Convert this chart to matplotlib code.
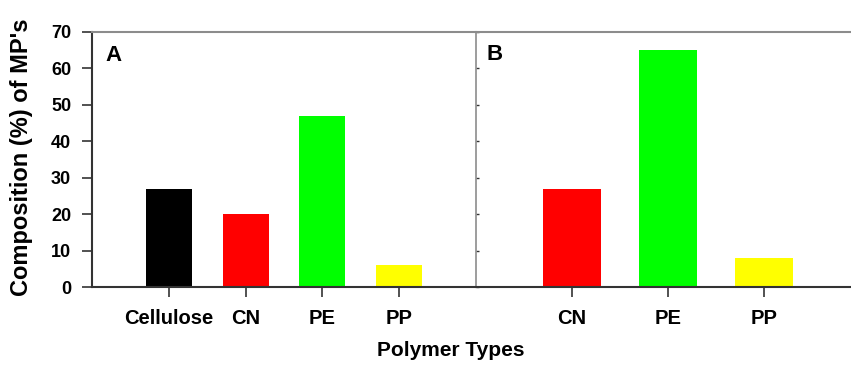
import numpy as np
import matplotlib
matplotlib.use('Agg')
import matplotlib.pyplot as plt
from matplotlib import rcParams

rcParams['font.family'] = ['Liberation Sans', 'DejaVu Sans']
rcParams['font.weight'] = 'bold'

# data
cats_a = ['Cellulose', 'CN', 'PE', 'PP']
vals_a = [27, 20, 47, 6]
cats_b = ['CN', 'PE', 'PP']
vals_b = [27, 65, 8]
colors_a = ['#000000', '#ff0000', '#00ff00', '#ffff00']
colors_b = ['#ff0000', '#00ff00', '#ffff00']
yticks = np.arange(0, 71, 10)

W, H = 851, 372
fig = plt.figure(figsize=(W / 100, H / 100), dpi=100)

# axes boxes in pixels (left, right), panel B runs past the right edge
y0, y1 = 287, 32
ax_a = fig.add_axes([92 / W, 1 - y0 / H, (476 - 92) / W, (y0 - y1) / H])
ax_b = fig.add_axes([476 / W, 1 - y0 / H, (860 - 476) / W, (y0 - y1) / H])

dark = '#333333'
grey = '#8c8c8c'

# panel A
xa = np.arange(1, len(cats_a) + 1)
ax_a.bar(xa, vals_a, width=0.6, color=colors_a, linewidth=0)
ax_a.set_xlim(0, 5)
ax_a.set_ylim(0, 70)
ax_a.set_yticks(yticks)
ax_a.set_xticks(xa)
ax_a.set_xticklabels(cats_a)
ax_a.tick_params(axis='y', direction='out', length=7, width=1.2, color=dark,
                 labelsize=13, pad=8)
ax_a.tick_params(axis='x', direction='out', length=7, width=1.2, color=dark,
                 labelsize=14.5, pad=9)
ax_a.spines['right'].set_visible(False)
ax_a.spines['left'].set_color(dark)
ax_a.spines['bottom'].set_color(dark)
ax_a.spines['top'].set_color(grey)
for s in ['left', 'bottom']:
    ax_a.spines[s].set_linewidth(1.5)
ax_a.spines['top'].set_linewidth(1.5)
ax_a.text(0.034, 0.906, 'A', transform=ax_a.transAxes, fontsize=16,
          fontweight='bold', ha='left', va='center')

# panel B
xb = np.arange(1, len(cats_b) + 1)
ax_b.bar(xb, vals_b, width=0.6, color=colors_b, linewidth=0)
ax_b.set_xlim(0, 4)
ax_b.set_ylim(0, 70)
ax_b.set_yticks(yticks)
ax_b.set_yticklabels([])
ax_b.set_xticks(xb)
ax_b.set_xticklabels(cats_b)
ax_b.tick_params(axis='y', direction='in', length=2, width=1, color=dark)
ax_b.tick_params(axis='x', direction='out', length=7, width=1.2, color=dark,
                 labelsize=14.5, pad=9)
ax_b.spines['right'].set_visible(False)
ax_b.spines['left'].set_color(grey)
ax_b.spines['left'].set_linewidth(1.2)
ax_b.spines['top'].set_color(grey)
ax_b.spines['top'].set_linewidth(1.5)
ax_b.spines['bottom'].set_color(dark)
ax_b.spines['bottom'].set_linewidth(1.5)
ax_b.text(0.028, 0.91, 'B', transform=ax_b.transAxes, fontsize=16,
          fontweight='bold', ha='left', va='center')

# shared labels
fig.text(22 / W, 1 - 157 / H, "Composition (%) of MP's", rotation=90,
         fontsize=17, fontweight='bold', ha='center', va='center')
fig.text(451 / W, 1 - 351 / H, 'Polymer Types', fontsize=15,
         fontweight='bold', ha='center', va='center')

fig.savefig('out.png', dpi=100)
